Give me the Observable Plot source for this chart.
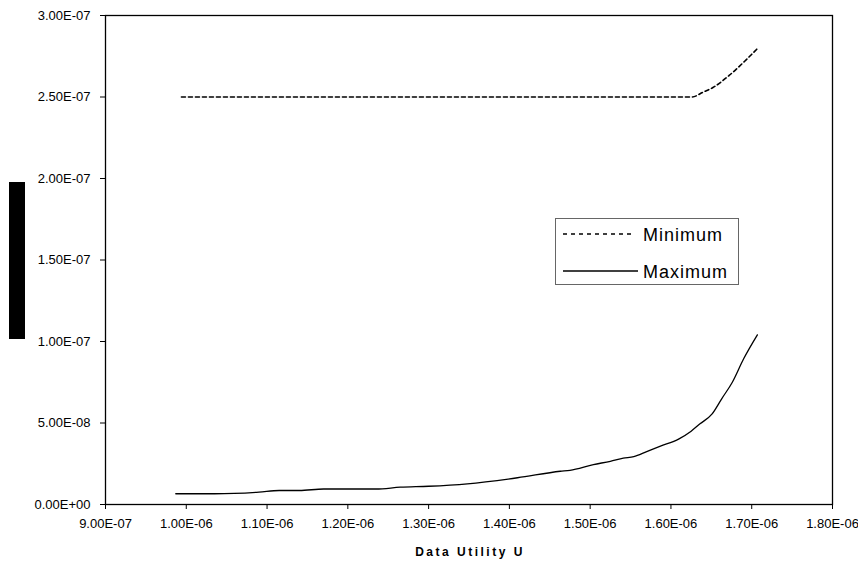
<!DOCTYPE html>
<html>
<head>
<meta charset="utf-8">
<script src="https://cdn.jsdelivr.net/npm/d3@7"></script>
<script src="https://cdn.jsdelivr.net/npm/@observablehq/plot@0.6"></script>
<style>
  html, body { margin: 0; padding: 0; background: #fff; }
  #wrap { position: relative; width: 858px; height: 563px; font-family: "Liberation Sans", Arial, sans-serif; }
  #redact { position: absolute; left: 9px; top: 182px; width: 16px; height: 157px; background: #000; }
  #legend { position: absolute; left: 555px; top: 218px; width: 182px; height: 65px; border: 1px solid #666; background: #fff; }
</style>
</head>
<body>
<div id="wrap"></div>
<script>
// Data Utility U (x) and values for each series
const minU = [0.994e-6, 1.05e-6, 1.10e-6, 1.15e-6, 1.20e-6, 1.25e-6, 1.30e-6, 1.35e-6, 1.40e-6, 1.45e-6, 1.50e-6, 1.55e-6, 1.60e-6, 1.626e-6, 1.64e-6, 1.652e-6, 1.672e-6, 1.691e-6, 1.707e-6];
const minV = [2.5e-7, 2.5e-7, 2.5e-7, 2.5e-7, 2.5e-7, 2.5e-7, 2.5e-7, 2.5e-7, 2.5e-7, 2.5e-7, 2.5e-7, 2.5e-7, 2.5e-7, 2.5e-7, 2.53e-7, 2.558e-7, 2.632e-7, 2.718e-7, 2.797e-7];

const maxU = [0.987e-6, 1.035e-6, 1.09e-6, 1.115e-6, 1.14e-6, 1.17e-6, 1.235e-6, 1.265e-6, 1.30e-6, 1.348e-6, 1.41e-6, 1.463e-6, 1.475e-6, 1.504e-6, 1.525e-6, 1.541e-6, 1.554e-6, 1.57e-6, 1.587e-6, 1.61e-6, 1.625e-6, 1.636e-6, 1.651e-6, 1.663e-6, 1.676e-6, 1.69e-6, 1.707e-6];
const maxV = [6.6e-9, 6.6e-9, 7.6e-9, 8.6e-9, 8.6e-9, 9.5e-9, 9.5e-9, 1.06e-8, 1.12e-8, 1.27e-8, 1.64e-8, 2.04e-8, 2.1e-8, 2.45e-8, 2.65e-8, 2.84e-8, 2.94e-8, 3.25e-8, 3.58e-8, 4.03e-8, 4.5e-8, 4.95e-8, 5.56e-8, 6.5e-8, 7.5e-8, 8.94e-8, 1.041e-7];

const xTicks = [9.0e-7, 1.0e-6, 1.1e-6, 1.2e-6, 1.3e-6, 1.4e-6, 1.5e-6, 1.6e-6, 1.7e-6, 1.8e-6];
const yTicks = [0, 5.0e-8, 1.0e-7, 1.5e-7, 2.0e-7, 2.5e-7, 3.0e-7];
const seriesNames = ["Minimum", "Maximum"];
const xLabel = "Data Utility U";

function excelFmt(v) {
  if (v === 0) return "0.00E+00";
  const s = v.toExponential(2); // e.g. 9.00e-7
  const [m, e] = s.split("e");
  const n = parseInt(e, 10);
  const sign = n < 0 ? "-" : "+";
  return m + "E" + sign + String(Math.abs(n)).padStart(2, "0");
}

const minData = minU.map((u, i) => ({u, v: minV[i]}));
const maxData = maxU.map((u, i) => ({u, v: maxV[i]}));

const chart = Plot.plot({
  width: 858,
  height: 563,
  marginLeft: 105,
  marginRight: 26,
  marginTop: 15,
  marginBottom: 59,
  style: {fontFamily: "'Liberation Sans', Arial, sans-serif", fontSize: "13px", color: "#000", background: "#fff"},
  x: {domain: [9.0e-7, 1.8e-6], label: null},
  y: {domain: [0, 3.0e-7], label: null},
  marks: [
    Plot.frame({stroke: "#000", strokeWidth: 1.3}),
    Plot.axisX({ticks: xTicks, tickFormat: excelFmt, tickSize: 5, tickPadding: 9, label: null, fontSize: 13}),
    Plot.axisY({ticks: yTicks, tickFormat: excelFmt, tickSize: 5, tickPadding: 10, label: null, fontSize: 13}),
    Plot.line(minData, {x: "u", y: "v", stroke: "#000", strokeWidth: 1.6, strokeDasharray: "4,3", curve: "monotone-x"}),
    Plot.line(maxData, {x: "u", y: "v", stroke: "#000", strokeWidth: 1.3, curve: "monotone-x"})
  ]
});

const wrap = document.getElementById("wrap");
wrap.appendChild(chart);

// x axis title
const title = document.createElement("div");
title.textContent = xLabel;
title.style.cssText = "position:absolute;left:0;width:" + (2 * 470) + "px;top:545px;text-align:center;font-weight:bold;font-size:12px;letter-spacing:2.5px;";
wrap.appendChild(title);

// redacted y label block
const red = document.createElement("div");
red.id = "redact";
wrap.appendChild(red);

// legend
const leg = document.createElement("div");
leg.id = "legend";
const ns = "http://www.w3.org/2000/svg";
const lsvg = document.createElementNS(ns, "svg");
lsvg.setAttribute("width", 182);
lsvg.setAttribute("height", 65);
const styles = [{dash: "4,4", w: 1.6, x2: 75}, {dash: null, w: 1.3, x2: 82}];
seriesNames.forEach((name, i) => {
  const y = 15 + i * 37;
  const ln = document.createElementNS(ns, "line");
  ln.setAttribute("x1", 7); ln.setAttribute("x2", styles[i].x2);
  ln.setAttribute("y1", y); ln.setAttribute("y2", y);
  ln.setAttribute("stroke", "#000"); ln.setAttribute("stroke-width", styles[i].w);
  if (styles[i].dash) ln.setAttribute("stroke-dasharray", styles[i].dash);
  lsvg.appendChild(ln);
  const t = document.createElementNS(ns, "text");
  t.setAttribute("x", 87); t.setAttribute("y", y + 7);
  t.setAttribute("font-size", 18); t.setAttribute("letter-spacing", "1");
  t.setAttribute("font-family", "'Liberation Sans', Arial, sans-serif");
  t.textContent = name;
  lsvg.appendChild(t);
});
leg.appendChild(lsvg);
wrap.appendChild(leg);
</script>
</body>
</html>
